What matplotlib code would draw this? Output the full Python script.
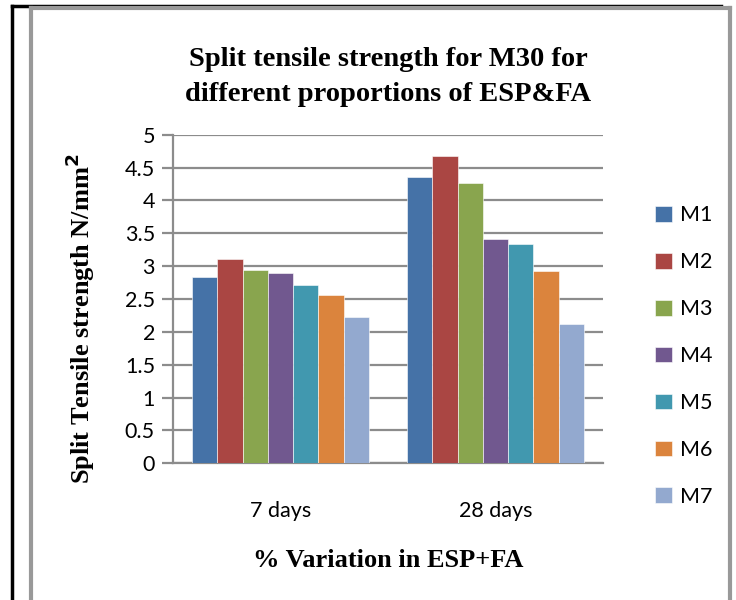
import matplotlib.pyplot as plt
import numpy as np
from matplotlib.lines import Line2D

# 数据
categories = ['7 days', '28 days']
series = ['M1', 'M2', 'M3', 'M4', 'M5', 'M6', 'M7']
values_7 = [2.83, 3.11, 2.94, 2.89, 2.71, 2.56, 2.22]
values_28 = [4.35, 4.68, 4.27, 3.42, 3.33, 2.93, 2.12]
colors = ['#4572A7', '#AA4643', '#89A54E', '#71588F', '#4198AF', '#DB843D', '#93A9CF']

W, H = 736, 600
fig = plt.figure(figsize=(W / 100, H / 100), dpi=100)
ax = fig.add_axes([173 / W, 1 - 463.3 / H, (603 - 173) / W, (463.3 - 134.7) / H])

bw = 0.823 / len(series)
x = np.arange(len(categories))
for i, name in enumerate(series):
    vals = [values_7[i], values_28[i]]
    ax.bar(x - 0.4115 + bw * (i + 0.5), vals, width=bw, color=colors[i],
           edgecolor='white', linewidth=0.4, label=name, zorder=3)

ax.set_xlim(-0.5, 1.5)
ax.set_ylim(0, 5)
ax.set_yticks(np.arange(0, 5.01, 0.5))
ax.set_yticklabels(['0', '0.5', '1', '1.5', '2', '2.5', '3', '3.5', '4', '4.5', '5'])
ax.set_xticks(x)
ax.set_xticklabels(categories)
ax.grid(axis='y', color='#8c8c8c', linewidth=1.6, zorder=0)
for s in ['top', 'right']:
    ax.spines[s].set_visible(False)
for s in ['left', 'bottom']:
    ax.spines[s].set_color('#8c8c8c')
    ax.spines[s].set_linewidth(1.6)
ax.tick_params(axis='y', length=8, width=1.6, color='#8c8c8c', labelsize=15.5, pad=5)
ax.tick_params(axis='x', length=0, labelsize=15.5, pad=27)
for lab in ax.get_xticklabels() + ax.get_yticklabels():
    lab.set_fontfamily('Lato')

ax.set_xlabel('% Variation in ESP+FA', family='Liberation Serif', weight='bold',
              fontsize=19, labelpad=20)
ax.set_ylabel('Split Tensile strength N/mm$^\\mathbf{2}$', family='Liberation Serif',
              weight='bold', fontsize=19)
ax.yaxis.set_label_coords(-0.176, 0.44)
fig.text(388 / W, 1 - 77 / H, 'Split tensile strength for M30 for\ndifferent proportions of ESP&FA',
         ha='center', va='center', family='Liberation Serif', weight='bold',
         fontsize=20.5, linespacing=1.55)

leg = ax.legend(loc='upper left', bbox_to_anchor=(636 / W, 1 - 186 / H),
                bbox_transform=fig.transFigure, frameon=False,
                handlelength=0.75, handleheight=0.75, handletextpad=0.4,
                labelspacing=1.25, prop={'family': 'Lato', 'size': 15.5})

# 外框
fig.add_artist(Line2D([12 / W, 12 / W], [0, 1 - 6 / H], color='black', linewidth=2.5))
fig.add_artist(Line2D([12 / W, 721 / W], [1 - 6 / H, 1 - 6 / H], color='black', linewidth=2.5))
fig.add_artist(Line2D([31 / W, 31 / W], [0, 1 - 8 / H], color='#999999', linewidth=3))
fig.add_artist(Line2D([31 / W, 730 / W], [1 - 8 / H, 1 - 8 / H], color='#999999', linewidth=3))
fig.add_artist(Line2D([730 / W, 730 / W], [0, 1 - 8 / H], color='#999999', linewidth=3))

fig.savefig('out.png', dpi=100)
